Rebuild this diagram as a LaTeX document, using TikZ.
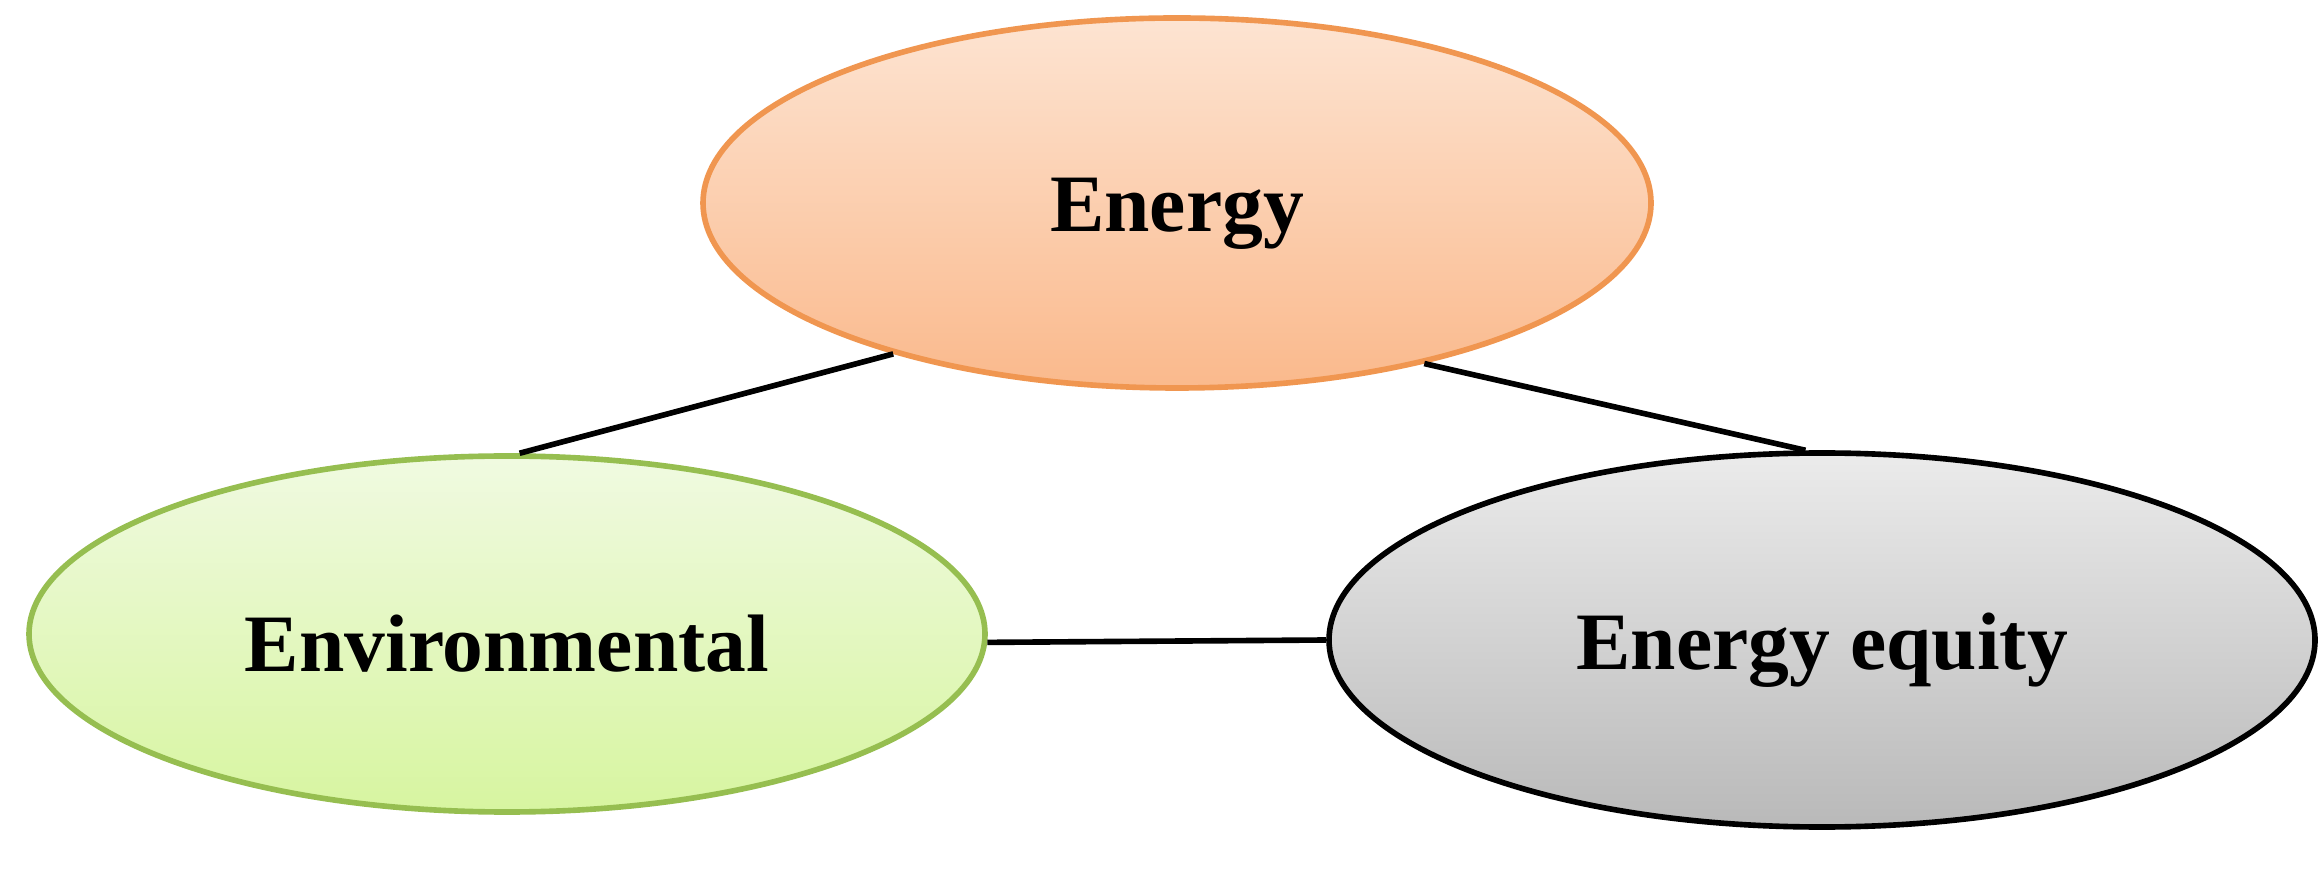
\documentclass[tikz,border=0pt]{standalone}
\usepackage{fontspec}
\setmainfont{Liberation Serif}
\usetikzlibrary{shapes.geometric}
\definecolor{orline}{RGB}{240,150,80}
\definecolor{ortop}{RGB}{253,228,210}
\definecolor{orbot}{RGB}{250,185,140}
\definecolor{grline}{RGB}{150,190,80}
\definecolor{grtop}{RGB}{240,250,225}
\definecolor{grbot}{RGB}{215,245,160}
\definecolor{gytop}{RGB}{235,235,235}
\definecolor{gybot}{RGB}{185,185,185}
\tikzset{
 oval/.style={ellipse, line width=1.6pt, font=\bfseries\fontsize{23.2}{28}\selectfont, inner sep=0pt},
 link/.style={line width=1.6pt, black}
}
\begin{document}
\begin{tikzpicture}
\useasboundingbox (0,0) rectangle (23.22,8.69);
\node[oval, draw=orline, top color=ortop, bottom color=orbot, minimum width=9.48cm, minimum height=3.7cm] (en) at (11.77,6.66) {};
\node at (11.77,6.55) [font=\bfseries\fontsize{23.2}{28}\selectfont] (ent) {Energy};
\node[oval, draw=grline, top color=grtop, bottom color=grbot, minimum width=9.56cm, minimum height=3.56cm] (env) at (5.07,2.35) {};
\node at (5.07,2.25) [font=\bfseries\fontsize{23.2}{28}\selectfont] (envt) {Environmental};
\node[oval, draw=black, top color=gytop, bottom color=gybot, minimum width=9.86cm, minimum height=3.74cm] (eq) at (18.22,2.29) {};
\node at (18.22,2.19) [font=\bfseries\fontsize{23.2}{28}\selectfont] (eqt) {Energy equity};
\draw[link] (en.208.5) -- (env.86);
\draw[link] (en.-33.5) -- (eq.95);
\draw[link] (env.-1) -- (eq.180);
\end{tikzpicture}
\end{document}
